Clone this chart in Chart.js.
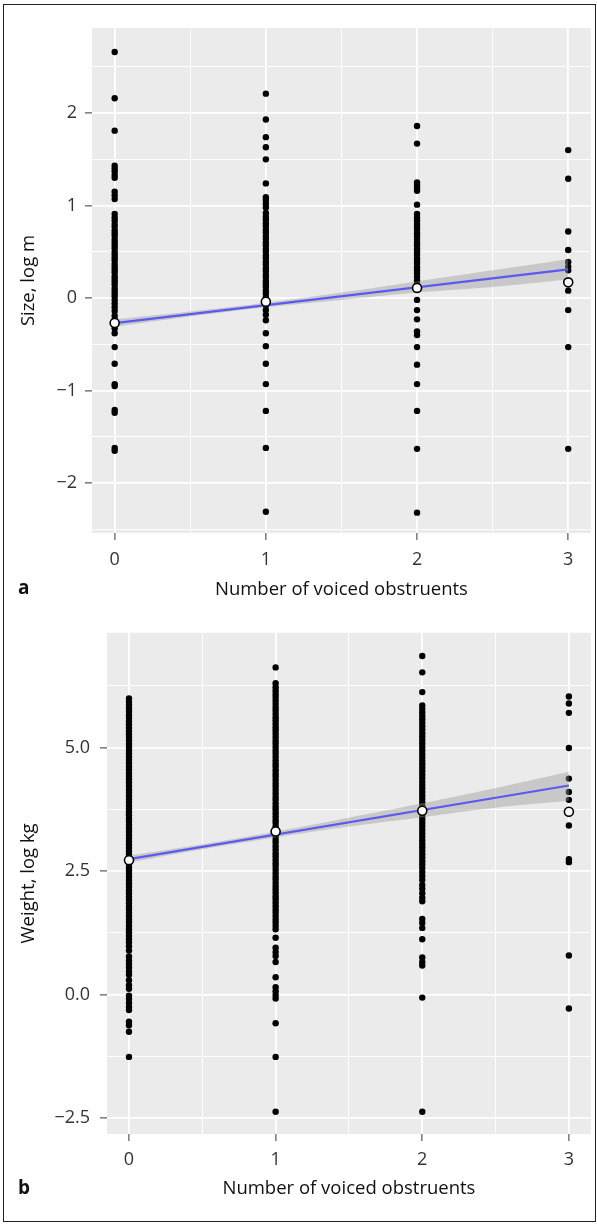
<!DOCTYPE html>
<html>
<head>
<meta charset="utf-8">
<script src="https://cdn.jsdelivr.net/npm/chart.js@4.4.0/dist/chart.umd.min.js"></script>
<style>
  html, body { margin: 0; padding: 0; background: #fff; }
  #page { position: relative; width: 597px; height: 1225px; overflow: hidden; font-family: 'Open Sans', sans-serif; }
  #frame { position: absolute; left: 3px; top: 4px; width: 591px; height: 1216px; border: 1.5px solid #222; }
  .wrap { position: absolute; left: 0; width: 597px; }
  .tag { position: absolute; left: 18px; font-weight: bold; font-size: 19px; line-height: 19px; color: #111; }
</style>
</head>
<body>
<div id="page">
  <div class="wrap" style="top:0;height:612px"><canvas id="chartA" width="597" height="612"></canvas></div>
  <div class="wrap" style="top:612px;height:613px"><canvas id="chartB" width="597" height="613"></canvas></div>
  <div class="tag" style="top:578px">a</div>
  <div class="tag" style="top:1178px">b</div>
  <div id="frame"></div>
</div>
<script>
// x categories (number of voiced obstruents)
const xCats = [0, 1, 2, 3];
const xLabels = ['0', '1', '2', '3'];
const xMinor = [0.5, 1.5, 2.5];

// panel a: size, log m
const sizeTicks = [-2, -1, 0, 1, 2];
const sizeTickLabels = ['\u22122', '\u22121', '0', '1', '2'];
const sizeMinor = [-2.5, -1.5, -0.5, 0.5, 1.5, 2.5];
const sizeObs0 = [2.66, 2.16, 1.81, 1.43, 1.40, 1.37, 1.33, 1.30, 1.15, 1.11, 1.07, 0.91, 0.87, 0.84, 0.80, 0.77, 0.73, 0.70, 0.67, 0.63, 0.60, 0.57, 0.54, 0.50, 0.47, 0.44, 0.41, 0.37, 0.34, 0.31, 0.28, 0.24, 0.21, 0.18, 0.15, 0.11, 0.08, 0.05, 0.02, -0.02, -0.06, -0.10, -0.14, -0.19, -0.23, -0.28, -0.33, -0.38, -0.53, -0.71, -0.93, -0.95, -1.21, -1.24, -1.62, -1.65];
const sizeObs1 = [2.21, 1.93, 1.74, 1.63, 1.50, 1.24, 1.09, 1.06, 1.02, 0.98, 0.92, 0.88, 0.85, 0.81, 0.78, 0.74, 0.71, 0.67, 0.64, 0.60, 0.57, 0.53, 0.50, 0.46, 0.43, 0.39, 0.36, 0.32, 0.29, 0.25, 0.22, 0.18, 0.15, 0.12, 0.08, 0.05, 0.01, -0.04, -0.08, -0.13, -0.18, -0.24, -0.38, -0.52, -0.71, -0.93, -1.22, -1.62, -2.31];
const sizeObs2 = [1.86, 1.67, 1.25, 1.22, 1.19, 1.16, 1.01, 0.91, 0.87, 0.84, 0.80, 0.77, 0.74, 0.70, 0.67, 0.63, 0.60, 0.57, 0.53, 0.50, 0.47, 0.43, 0.40, 0.37, 0.33, 0.30, 0.27, 0.23, 0.19, 0.15, 0.11, -0.02, -0.13, -0.23, -0.36, -0.40, -0.53, -0.72, -0.93, -1.22, -1.63, -2.32];
const sizeObs3 = [1.60, 1.29, 0.72, 0.52, 0.39, 0.34, 0.30, 0.08, -0.13, -0.53, -1.63];
const sizeMeans = [-0.27, -0.04, 0.11, 0.17];
const fitX = [0, 3];
const sizeFit = [-0.27, 0.31];
const bandX = [0, 0.5, 1, 1.5, 2, 2.5, 3];
const sizeBandLo = [-0.31, -0.20, -0.10, -0.02, 0.06, 0.12, 0.20];
const sizeBandHi = [-0.23, -0.145, -0.05, 0.06, 0.18, 0.30, 0.42];

// panel b: weight, log kg
const weightTicks = [-2.5, 0, 2.5, 5];
const weightTickLabels = ['\u22122.5', '0.0', '2.5', '5.0'];
const weightMinor = [-1.25, 1.25, 3.75, 6.25];
const weightObs0 = [5.99, 5.92, 5.86, 5.79, 5.73, 5.66, 5.60, 5.53, 5.47, 5.40, 5.33, 5.27, 5.21, 5.14, 5.07, 5.01, 4.94, 4.88, 4.81, 4.75, 4.68, 4.61, 4.55, 4.48, 4.42, 4.35, 4.29, 4.22, 4.15, 4.09, 4.02, 3.96, 3.89, 3.82, 3.76, 3.69, 3.63, 3.56, 3.50, 3.43, 3.36, 3.30, 3.23, 3.17, 3.10, 3.04, 2.97, 2.90, 2.84, 2.77, 2.71, 2.64, 2.57, 2.51, 2.44, 2.38, 2.31, 2.25, 2.18, 2.11, 2.05, 1.98, 1.92, 1.85, 1.78, 1.72, 1.65, 1.59, 1.52, 1.46, 1.39, 1.32, 1.26, 1.19, 1.12, 1.06, 0.98, 0.89, 0.77, 0.69, 0.62, 0.55, 0.47, 0.40, 0.29, 0.19, 0.12, -0.02, -0.09, -0.17, -0.25, -0.31, -0.55, -0.62, -0.75, -1.26];
const weightObs1 = [6.62, 6.30, 6.22, 6.15, 6.08, 6.02, 5.95, 5.88, 5.81, 5.75, 5.68, 5.61, 5.55, 5.48, 5.41, 5.35, 5.28, 5.21, 5.14, 5.08, 5.01, 4.94, 4.88, 4.81, 4.74, 4.67, 4.61, 4.54, 4.47, 4.41, 4.34, 4.27, 4.21, 4.14, 4.07, 4.00, 3.94, 3.87, 3.80, 3.74, 3.67, 3.60, 3.53, 3.47, 3.40, 3.33, 3.27, 3.20, 3.13, 3.07, 3.00, 2.93, 2.86, 2.80, 2.73, 2.66, 2.60, 2.53, 2.46, 2.39, 2.33, 2.26, 2.19, 2.13, 2.06, 1.99, 1.93, 1.86, 1.79, 1.72, 1.66, 1.59, 1.52, 1.46, 1.39, 1.32, 1.15, 0.95, 0.86, 0.78, 0.66, 0.35, 0.15, 0.07, -0.01, -0.08, -0.58, -1.26, -2.37];
const weightObs2 = [6.85, 6.52, 6.12, 5.85, 5.78, 5.71, 5.64, 5.57, 5.50, 5.43, 5.36, 5.29, 5.22, 5.15, 5.08, 5.01, 4.94, 4.87, 4.80, 4.73, 4.66, 4.59, 4.52, 4.45, 4.38, 4.31, 4.24, 4.17, 4.10, 4.03, 3.96, 3.89, 3.82, 3.75, 3.68, 3.61, 3.54, 3.47, 3.40, 3.33, 3.26, 3.19, 3.12, 3.05, 2.98, 2.91, 2.84, 2.77, 2.70, 2.63, 2.56, 2.48, 2.40, 2.32, 2.22, 2.14, 2.05, 1.96, 1.89, 1.53, 1.45, 1.35, 1.12, 0.75, 0.66, 0.59, -0.06, -2.37];
const weightObs3 = [6.03, 5.89, 5.70, 4.99, 4.37, 4.10, 3.94, 3.42, 2.74, 2.68, 0.79, -0.28];
const weightMeans = [2.72, 3.30, 3.72, 3.70];
const weightFit = [2.74, 4.23];
const weightBandLo = [2.67, 2.94, 3.18, 3.40, 3.59, 3.78, 3.92];
const weightBandHi = [2.81, 3.04, 3.30, 3.58, 3.87, 4.18, 4.51];

const FONT = "'Open Sans', sans-serif";

const panelBg = {
  id: 'panelBg',
  beforeDraw(chart) {
    const a = chart.chartArea;
    const c = chart.ctx;
    c.save();
    c.fillStyle = '#ebebeb';
    c.fillRect(a.left, a.top, a.right - a.left, a.bottom - a.top);
    c.restore();
  }
};

function setTicks(major, minor) {
  return function (scale) {
    scale.ticks = major.concat(minor).sort((a, b) => a - b)
      .map(v => ({ value: v, isMajor: major.includes(v) }));
  };
}

function gridOpts() {
  return {
    color: '#ffffff',
    lineWidth: ctx => (ctx.tick && ctx.tick.isMajor ? 1.8 : 0.9),
    tickColor: ctx => (ctx.tick && ctx.tick.isMajor ? '#333' : 'rgba(0,0,0,0)'),
    tickWidth: 1,
    tickLength: 7
  };
}

function makePanel(id, p) {
  const pts = [];
  p.cols.forEach((col, i) => col.forEach(v => pts.push({ x: xCats[i], y: v })));

  new Chart(document.getElementById(id), {
    type: 'scatter',
    data: {
      datasets: [
        {
          data: pts, order: 4,
          pointRadius: 3.2, pointHoverRadius: 3.2,
          backgroundColor: '#000', borderWidth: 0
        },
        {
          type: 'line', order: 3,
          data: bandX.map((x, i) => ({ x: x, y: p.bandHi[i] })),
          pointRadius: 0, borderWidth: 0, tension: 0.4, fill: false
        },
        {
          type: 'line', order: 2,
          data: bandX.map((x, i) => ({ x: x, y: p.bandLo[i] })),
          pointRadius: 0, borderWidth: 0, tension: 0.4,
          fill: '-1', backgroundColor: 'rgba(153,153,153,0.42)'
        },
        {
          type: 'line', order: 1,
          data: fitX.map((x, i) => ({ x: x, y: p.fit[i] })),
          pointRadius: 0, borderColor: '#5a5af0', borderWidth: 2.2, fill: false
        },
        {
          data: xCats.map((x, i) => ({ x: x, y: p.means[i] })), order: 0,
          pointRadius: 4.5, pointHoverRadius: 4.5,
          backgroundColor: '#fff', borderColor: '#000', borderWidth: 1.6
        }
      ]
    },
    options: {
      responsive: false,
      maintainAspectRatio: false,
      animation: false,
      events: [],
      layout: { padding: { left: 0, right: 6, top: p.top, bottom: 0 } },
      plugins: { legend: { display: false }, tooltip: { enabled: false } },
      scales: {
        x: {
          type: 'linear', min: -0.15, max: 3.15,
          afterBuildTicks: setTicks(xCats, xMinor),
          afterFit: s => { s.height = p.xAxisH; },
          grid: gridOpts(),
          border: { display: false },
          ticks: {
            autoSkip: false, maxRotation: 0, padding: p.xTickPad, color: '#333',
            font: { family: FONT, size: 18 },
            callback: v => { const i = xCats.indexOf(v); return i >= 0 ? xLabels[i] : ''; }
          },
          title: {
            display: true, text: 'Number of voiced obstruents', color: '#111',
            font: { family: FONT, size: 18.5 },
            padding: { top: 0, bottom: p.xTitlePad }
          }
        },
        y: {
          type: 'linear', min: p.yMin, max: p.yMax,
          afterBuildTicks: setTicks(p.ticks, p.minor),
          afterFit: s => { s.width = p.yAxisW; },
          grid: gridOpts(),
          border: { display: false },
          ticks: {
            autoSkip: false, padding: p.yTickPad, color: '#333',
            font: { family: FONT, size: 18 },
            callback: v => { const i = p.ticks.indexOf(v); return i >= 0 ? p.labels[i] : ''; }
          },
          title: {
            display: true, text: p.title, color: '#111',
            font: { family: FONT, size: 18.5 },
            padding: { top: 18, bottom: 0 }
          }
        }
      }
    },
    plugins: [panelBg]
  });
}

makePanel('chartA', {
  cols: [sizeObs0, sizeObs1, sizeObs2, sizeObs3],
  means: sizeMeans, fit: sizeFit, bandLo: sizeBandLo, bandHi: sizeBandHi,
  ticks: sizeTicks, labels: sizeTickLabels, minor: sizeMinor,
  yMin: -2.54, yMax: 2.92, title: 'Size, log m',
  top: 28, xAxisH: 79, yAxisW: 92, xTickPad: 9, xTitlePad: 11, yTickPad: 8
});

makePanel('chartB', {
  cols: [weightObs0, weightObs1, weightObs2, weightObs3],
  means: weightMeans, fit: weightFit, bandLo: weightBandLo, bandHi: weightBandHi,
  ticks: weightTicks, labels: weightTickLabels, minor: weightMinor,
  yMin: -2.82, yMax: 7.32, title: 'Weight, log kg',
  top: 16, xAxisH: 91, yAxisW: 107, xTickPad: 8, xTitlePad: 25, yTickPad: 10
});
</script>
</body>
</html>
